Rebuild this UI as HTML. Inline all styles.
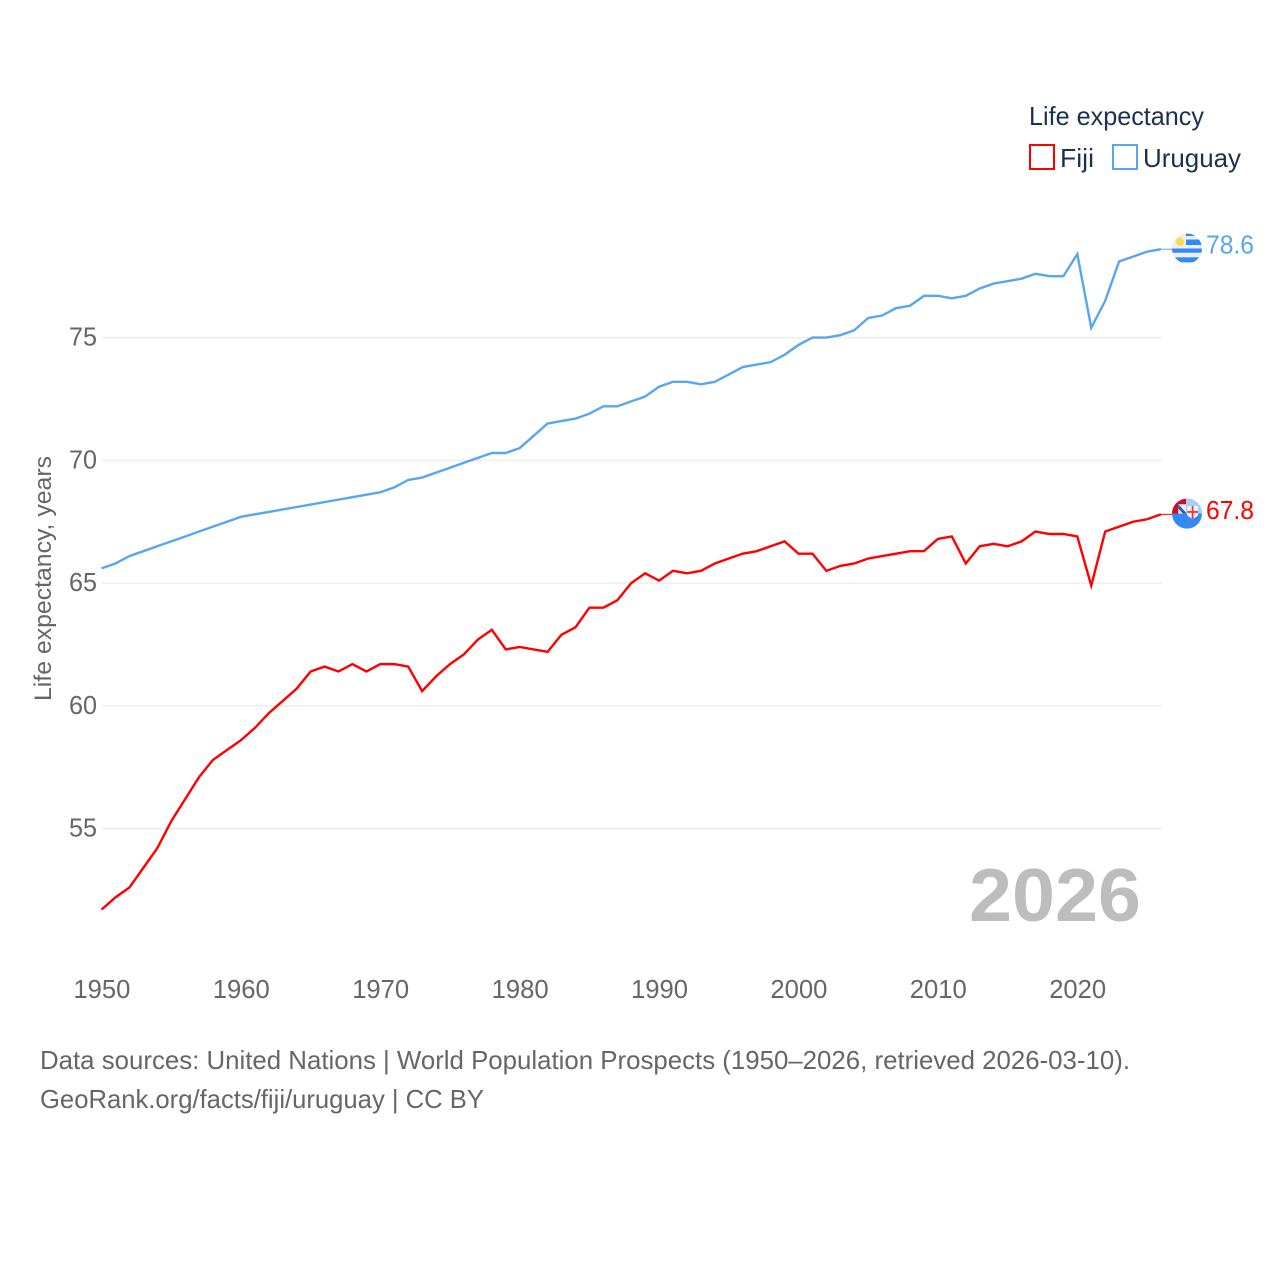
<!DOCTYPE html>
<html lang="en">
<head>
<meta charset="utf-8">
<title>Life expectancy: Fiji and Uruguay</title>
<style>
html,body{margin:0;padding:0;background:#fff;}
svg{display:block;font-family:"Liberation Sans",sans-serif;}
</style>
</head>
<body>
<svg id="chart" xmlns="http://www.w3.org/2000/svg" width="1280" height="1280" viewBox="0 0 1280 1280">
  <defs>
    <clipPath id="flag-clip"><circle cx="0" cy="0" r="15"></circle></clipPath>
  </defs>
  <rect x="0" y="0" width="1280" height="1280" fill="#ffffff"></rect>
  <g id="grid"></g>
  <g id="yticks"></g>
  <g id="xticks"></g>
  <text transform="translate(51,701) rotate(-90)" font-size="24.5" fill="#666666" textLength="245" lengthAdjust="spacingAndGlyphs">Life expectancy, years</text>
  <text x="969" y="921" font-size="75" font-weight="700" fill="#bdbdbd" textLength="172" lengthAdjust="spacingAndGlyphs">2026</text>
  <g id="series"></g>

  <g id="flag-uruguay">
    <g clip-path="url(#flag-clip)">
      <rect x="-15" y="-15" width="30" height="30" fill="#eeeeee"></rect>
      <rect x="-1" y="-15" width="16" height="2.5" fill="#338af3"></rect>
      <rect x="-1" y="-9" width="16" height="5.5" fill="#338af3"></rect>
      <rect x="-15" y="0" width="30" height="4.2" fill="#338af3"></rect>
      <rect x="-15" y="8.8" width="30" height="5" fill="#338af3"></rect>
      <circle cx="-7" cy="-7" r="4" fill="#ffda44"></circle>
    </g>
  </g>
  <g id="flag-fiji">
    <g clip-path="url(#flag-clip)">
      <rect x="-15" y="-15" width="30" height="30" fill="#338af3"></rect>
      <rect x="-15" y="-15" width="14" height="15" fill="#c8102e"></rect>
      <rect x="-8.7" y="-9.4" width="7.7" height="9.4" fill="#eeeeee"></rect>
      <path d="M-8.7,-9.4 L-1,-1 L-1,0 L-4,0 L-8.7,-5 Z" fill="#1f5fb4"></path>
      <rect x="-1" y="-15" width="16" height="15" fill="#a9cdf6"></rect>
      <path d="M0.3,-7.7 H11 V2 L5.6,5.6 L0.3,2 Z" fill="#f2f2f2"></path>
      <rect x="4.7" y="-7.7" width="1.8" height="13" fill="#e0354a"></rect>
      <rect x="0.3" y="-2.6" width="10.7" height="1.8" fill="#e0354a"></rect>
    </g>
  </g>

  <g id="labels"></g>

  <g>
    <text x="1029" y="125" font-size="26" fill="#1a3150" textLength="175" lengthAdjust="spacingAndGlyphs">Life expectancy</text>
    <g>
      <rect x="1030" y="145" width="24" height="24" fill="none" stroke="#ff0000" stroke-width="2"></rect>
      <text x="1060" y="167" font-size="26" fill="#1a3150" textLength="34" lengthAdjust="spacingAndGlyphs">Fiji</text>
    </g>
    <g>
      <rect x="1113" y="145" width="24" height="24" fill="none" stroke="#5aa5f0" stroke-width="2"></rect>
      <text x="1143" y="167" font-size="26" fill="#1a3150" textLength="98" lengthAdjust="spacingAndGlyphs">Uruguay</text>
    </g>
  </g>

  <g>
    <text x="40" y="1069" font-size="26" fill="#666666" textLength="1090" lengthAdjust="spacingAndGlyphs">Data sources: United Nations | World Population Prospects (1950–2026, retrieved 2026-03-10).</text>
    <text x="40" y="1108" font-size="26" fill="#666666" textLength="444" lengthAdjust="spacingAndGlyphs">GeoRank.org/facts/fiji/uruguay | CC BY</text>
  </g>
</svg>
<script>
const startYear = 1950;
const yTicks = [55, 60, 65, 70, 75];
const xTicks = [1950, 1960, 1970, 1980, 1990, 2000, 2010, 2020];
const fijiValues = [
  51.7, 52.2, 52.6, 53.4, 54.2, 55.3, 56.2, 57.1, 57.8, 58.2,
  58.6, 59.1, 59.7, 60.2, 60.7, 61.4, 61.6, 61.4, 61.7, 61.4,
  61.7, 61.7, 61.6, 60.6, 61.2, 61.7, 62.1, 62.7, 63.1, 62.3,
  62.4, 62.3, 62.2, 62.9, 63.2, 64.0, 64.0, 64.3, 65.0, 65.4,
  65.1, 65.5, 65.4, 65.5, 65.8, 66.0, 66.2, 66.3, 66.5, 66.7,
  66.2, 66.2, 65.5, 65.7, 65.8, 66.0, 66.1, 66.2, 66.3, 66.3,
  66.8, 66.9, 65.8, 66.5, 66.6, 66.5, 66.7, 67.1, 67.0, 67.0,
  66.9, 64.9, 67.1, 67.3, 67.5, 67.6, 67.8
];
const uruguayValues = [
  65.6, 65.8, 66.1, 66.3, 66.5, 66.7, 66.9, 67.1, 67.3, 67.5,
  67.7, 67.8, 67.9, 68.0, 68.1, 68.2, 68.3, 68.4, 68.5, 68.6,
  68.7, 68.9, 69.2, 69.3, 69.5, 69.7, 69.9, 70.1, 70.3, 70.3,
  70.5, 71.0, 71.5, 71.6, 71.7, 71.9, 72.2, 72.2, 72.4, 72.6,
  73.0, 73.2, 73.2, 73.1, 73.2, 73.5, 73.8, 73.9, 74.0, 74.3,
  74.7, 75.0, 75.0, 75.1, 75.3, 75.8, 75.9, 76.2, 76.3, 76.7,
  76.7, 76.6, 76.7, 77.0, 77.2, 77.3, 77.4, 77.6, 77.5, 77.5,
  78.4, 75.4, 76.5, 78.1, 78.3, 78.5, 78.6
];

const NS = 'http://www.w3.org/2000/svg';
const xScale = function (year) { return 101.5 + (year - 1950) * 13.94; };
const yScale = function (value) { return 337.6 + (75 - value) * 24.55; };
const lastYear = startYear + fijiValues.length - 1;

function make(parent, tag, attrs, text) {
  const el = document.createElementNS(NS, tag);
  for (const k in attrs) { el.setAttribute(k, attrs[k]); }
  if (text !== undefined) { el.textContent = text; }
  parent.appendChild(el);
  return el;
}

const grid = document.getElementById('grid');
const yTickGroup = document.getElementById('yticks');
yTicks.forEach(function (t) {
  const line = make(grid, 'line', { x1: 102, x2: 1162, y1: yScale(t), y2: yScale(t), stroke: '#eeeeee', 'stroke-width': 1.5 });
  
  
  const label = make(yTickGroup, 'text', { x: 97, y: yScale(t) + 8, 'text-anchor': 'end', 'font-size': 26, fill: '#666666', textLength: 28, lengthAdjust: 'spacingAndGlyphs' }, String(t));
  
  
});

const xTickGroup = document.getElementById('xticks');
xTicks.forEach(function (t) {
  const label = make(xTickGroup, 'text', { x: xScale(t) + 0.4, y: 998, 'text-anchor': 'middle', 'font-size': 26, fill: '#666666', textLength: 57, lengthAdjust: 'spacingAndGlyphs' }, String(t));
  
  
});

function linePath(values) {
  return values.map(function (v, i) {
    return (i ? 'L' : 'M') + xScale(startYear + i).toFixed(2) + ',' + yScale(v).toFixed(2);
  }).join(' ');
}

const seriesGroup = document.getElementById('series');
const labelGroup = document.getElementById('labels');

const fijiLine = make(seriesGroup, 'path', { d: linePath(fijiValues), fill: 'none', stroke: '#ff0000', 'stroke-width': 2.4, 'stroke-linejoin': 'miter' });


const uruguayLine = make(seriesGroup, 'path', { d: linePath(uruguayValues), fill: 'none', stroke: '#5aa5f0', 'stroke-width': 2.4, 'stroke-linejoin': 'miter' });



const fijiLast = fijiValues[fijiValues.length - 1];
const uruguayLast = uruguayValues[uruguayValues.length - 1];

const fijiLeader = make(seriesGroup, 'line', { x1: xScale(lastYear), x2: 1174, y1: yScale(fijiLast), y2: yScale(fijiLast), stroke: '#ff0000', 'stroke-width': 1 });


const uruguayLeader = make(seriesGroup, 'line', { x1: xScale(lastYear), x2: 1174, y1: yScale(uruguayLast), y2: yScale(uruguayLast), stroke: '#5aa5f0', 'stroke-width': 1 });



document.getElementById('flag-fiji').setAttribute('transform', 'translate(1187,' + (yScale(fijiLast) - 0.7) + ')');
document.getElementById('flag-uruguay').setAttribute('transform', 'translate(1187,' + (yScale(uruguayLast) - 0.7) + ')');

const fijiLabel = make(labelGroup, 'text', { x: 1206, y: yScale(fijiLast) + 4.5, 'font-size': 26, fill: '#ff0000', textLength: 48, lengthAdjust: 'spacingAndGlyphs' }, fijiLast.toFixed(1));


const uruguayLabel = make(labelGroup, 'text', { x: 1206, y: yScale(uruguayLast) + 4.5, 'font-size': 26, fill: '#5aa5f0', textLength: 48, lengthAdjust: 'spacingAndGlyphs' }, uruguayLast.toFixed(1));


</script>
</body>
</html>
